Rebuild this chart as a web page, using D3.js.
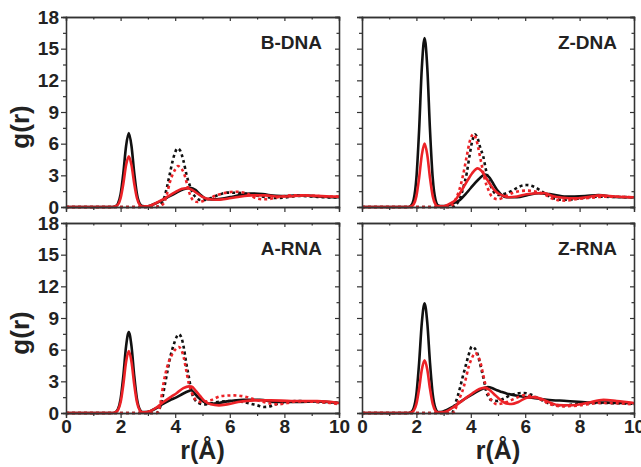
<!DOCTYPE html>
<html lang="en">
<head>
  <meta charset="UTF-8">
  <title>g(r) panels</title>
  <script src="https://d3js.org/d3.v7.min.js"></script>
  <style>
    body { margin: 0; background: #fff; }
    svg text { font-family: "Liberation Sans", Arial, sans-serif; font-weight: bold; fill: #222; }
  </style>
</head>
<body>
<div id="chart"></div>
<script>
// panel names and axis ticks
const panelNames = ["B-DNA", "Z-DNA", "A-RNA", "Z-RNA"];
const xMajor = [0, 2, 4, 6, 8, 10];
const xMinor = [1, 3, 5, 7, 9];
const yMajor = [0, 3, 6, 9, 12, 15, 18];
const yMinor = [1.5, 4.5, 7.5, 10.5, 13.5, 16.5];

// [r, g(r)]
const bdnaBlack = [[0,0],[1.7,0],[1.8,0.05],[1.9,0.31],[2.0,1.2],[2.1,3.2],[2.2,5.76],[2.3,7.0],[2.4,5.76],[2.5,3.2],[2.6,1.2],[2.7,0.31],[2.8,0.08],[2.95,0.06],[3.1,0.15],[3.3,0.35],[3.5,0.6],[3.7,0.88],[4.0,1.3],[4.3,1.68],[4.55,1.83],[4.75,1.6],[4.9,1.2],[5.05,0.9],[5.2,0.75],[5.5,0.72],[5.8,0.82],[6.1,0.98],[6.4,1.15],[6.75,1.28],[7.2,1.22],[7.7,1.06],[8.1,1.04],[8.6,1.12],[9.2,1.0],[9.9,0.93],[10,0.93]];
const bdnaRed = [[0,0],[1.7,0],[1.8,0.04],[1.9,0.21],[2.0,0.83],[2.1,2.2],[2.2,3.95],[2.3,4.8],[2.4,3.95],[2.5,2.2],[2.6,0.83],[2.7,0.21],[2.8,0.05],[2.95,0.06],[3.1,0.15],[3.3,0.38],[3.5,0.65],[3.7,0.95],[4.0,1.4],[4.25,1.72],[4.42,1.78],[4.6,1.65],[4.8,1.3],[5.0,0.95],[5.2,0.75],[5.5,0.68],[5.9,0.78],[6.3,0.95],[6.8,1.1],[7.3,1.1],[7.8,1.0],[8.3,1.02],[8.7,1.1],[9.2,1.05],[9.7,1.0],[10,0.98]];
const bdnaBlackDot = [[0,0],[3.3,0],[3.4,0.1],[3.5,0.35],[3.6,0.9],[3.7,1.9],[3.8,3.1],[3.9,4.3],[4.0,5.2],[4.08,5.55],[4.18,5.35],[4.3,4.4],[4.42,3.0],[4.54,2.0],[4.65,1.3],[4.78,0.85],[4.95,0.65],[5.15,0.7],[5.4,0.95],[5.65,1.2],[5.9,1.36],[6.2,1.35],[6.5,1.3],[6.9,1.12],[7.3,0.95],[7.65,0.85],[8.0,0.9],[8.5,1.05],[9.0,1.0],[9.5,0.92],[10,0.9]];
const bdnaRedDot = [[0,0],[3.3,0],[3.4,0.06],[3.5,0.15],[3.6,0.45],[3.7,1.25],[3.8,2.3],[3.9,3.05],[4.0,3.55],[4.1,3.88],[4.2,3.7],[4.32,3.2],[4.42,2.3],[4.5,1.5],[4.6,0.85],[4.7,0.55],[4.82,0.47],[5.0,0.55],[5.2,0.75],[5.5,1.1],[5.8,1.32],[6.2,1.45],[6.6,1.3],[6.9,0.9],[7.2,0.73],[7.5,0.78],[7.8,0.95],[8.4,1.12],[8.8,1.1],[9.2,1.04],[9.9,0.98],[10,0.98]];

const zdnaBlack = [[0,0],[1.7,0],[1.8,0.12],[1.9,0.7],[2.0,2.75],[2.1,7.3],[2.2,13.2],[2.3,16.0],[2.4,13.2],[2.5,7.3],[2.6,2.75],[2.7,0.7],[2.8,0.15],[2.95,0.08],[3.1,0.12],[3.3,0.3],[3.6,0.66],[3.8,1.2],[4.0,1.8],[4.28,2.6],[4.52,3.08],[4.7,2.75],[4.85,2.1],[5.0,1.5],[5.15,1.1],[5.3,0.92],[5.7,0.92],[6.1,1.15],[6.5,1.3],[6.9,1.22],[7.5,0.98],[8.2,1.04],[8.7,1.13],[9.3,0.95],[10,0.92]];
const zdnaRed = [[0,0],[1.7,0],[1.8,0.05],[1.9,0.26],[2.0,1.03],[2.1,2.75],[2.2,4.94],[2.3,6.0],[2.4,4.94],[2.5,2.75],[2.6,1.03],[2.7,0.26],[2.8,0.06],[2.95,0.06],[3.1,0.15],[3.25,0.35],[3.43,0.66],[3.6,1.3],[3.75,1.95],[3.9,2.6],[4.05,3.2],[4.25,3.66],[4.4,3.4],[4.55,2.8],[4.7,2.2],[4.85,1.65],[5.0,1.3],[5.15,1.1],[5.4,0.93],[5.7,1.0],[6.05,1.2],[6.4,1.3],[6.7,1.32],[7.0,1.05],[7.4,0.88],[7.8,0.82],[8.3,0.95],[8.75,1.1],[9.3,1.0],[10,0.92]];
const zdnaBlackDot = [[0,0],[3.3,0],[3.45,0.2],[3.6,0.8],[3.73,1.9],[3.85,3.2],[3.95,4.8],[4.05,6.2],[4.15,6.88],[4.25,6.5],[4.35,5.6],[4.46,4.76],[4.55,3.6],[4.65,2.55],[4.77,1.8],[4.89,1.3],[5.05,1.13],[5.3,1.3],[5.56,1.6],[5.8,1.95],[6.05,2.08],[6.3,1.95],[6.54,1.6],[6.8,1.15],[7.02,0.85],[7.35,0.68],[7.7,0.72],[8.0,0.82],[8.7,0.98],[9.3,0.95],[10,0.92]];
const zdnaRedDot = [[0,0],[3.25,0],[3.35,0.3],[3.49,1.0],[3.62,2.0],[3.73,3.2],[3.85,4.8],[3.97,6.3],[4.1,6.9],[4.2,6.4],[4.34,4.76],[4.43,3.6],[4.52,2.55],[4.65,1.6],[4.77,1.0],[5.0,0.73],[5.3,1.05],[5.56,1.36],[6.05,1.55],[6.4,1.45],[6.7,1.2],[7.0,0.8],[7.2,0.65],[7.5,0.6],[7.9,0.75],[8.3,0.85],[9.0,0.98],[10,0.92]];

const arnaBlack = [[0,0],[1.7,0],[1.8,0.06],[1.9,0.34],[2.0,1.32],[2.1,3.51],[2.2,6.31],[2.3,7.67],[2.4,6.31],[2.5,3.51],[2.6,1.32],[2.7,0.34],[2.8,0.08],[2.95,0.08],[3.1,0.2],[3.3,0.45],[3.57,0.88],[3.8,1.2],[4.06,1.5],[4.3,1.85],[4.5,2.08],[4.58,2.15],[4.7,1.9],[4.85,1.45],[5.05,1.05],[5.3,0.88],[5.6,0.95],[5.9,1.1],[6.5,1.26],[7.1,1.26],[7.7,1.04],[8.5,1.04],[9.2,1.1],[10,0.95]];
const arnaRed = [[0,0],[1.7,0],[1.8,0.04],[1.9,0.26],[2.0,1.01],[2.1,2.69],[2.2,4.83],[2.3,5.87],[2.4,4.83],[2.5,2.69],[2.6,1.01],[2.7,0.26],[2.8,0.06],[2.95,0.08],[3.1,0.2],[3.3,0.5],[3.57,1.04],[3.8,1.45],[4.06,1.9],[4.3,2.35],[4.5,2.52],[4.6,2.5],[4.74,2.15],[4.9,1.65],[5.05,1.2],[5.3,0.82],[5.6,0.72],[5.9,0.82],[6.3,1.04],[6.9,1.2],[7.5,1.2],[8.25,1.14],[9.2,1.14],[10,0.95]];
const arnaBlackDot = [[0,0],[3.3,0],[3.4,0.25],[3.5,1.0],[3.63,2.8],[3.72,4.0],[3.82,5.3],[3.95,6.5],[4.05,7.2],[4.13,7.45],[4.22,7.2],[4.31,6.25],[4.4,4.8],[4.5,3.4],[4.6,2.0],[4.7,1.35],[4.8,1.04],[5.06,0.82],[5.3,0.9],[5.55,1.04],[6.16,1.14],[6.65,0.95],[7.0,0.73],[7.25,0.57],[7.5,0.65],[7.75,0.88],[8.1,1.05],[8.5,1.14],[9.2,1.04],[10,0.95]];
const arnaRedDot = [[0,0],[3.35,0],[3.42,0.4],[3.47,1.1],[3.57,2.78],[3.66,3.9],[3.76,4.83],[3.9,5.6],[4.0,6.0],[4.13,6.25],[4.22,6.0],[4.31,5.3],[4.4,4.1],[4.5,2.78],[4.6,2.0],[4.68,1.5],[4.8,1.15],[4.95,1.04],[5.3,1.2],[5.67,1.6],[6.16,1.67],[6.65,1.5],[7.1,1.14],[7.75,0.82],[8.1,0.95],[8.5,1.1],[9.2,1.04],[9.7,0.95],[10,0.82]];

const zrnaBlack = [[0,0],[1.7,0],[1.8,0.08],[1.9,0.46],[2.0,1.79],[2.1,4.76],[2.2,8.56],[2.3,10.4],[2.4,8.56],[2.5,4.76],[2.6,1.79],[2.7,0.46],[2.8,0.1],[2.95,0.12],[3.12,0.3],[3.35,0.6],[3.61,1.04],[3.85,1.45],[4.1,1.83],[4.35,2.2],[4.53,2.4],[4.62,2.46],[4.8,2.35],[4.96,2.15],[5.15,1.98],[5.33,1.83],[5.82,1.58],[6.3,1.42],[6.8,1.26],[7.53,1.14],[8.3,1.0],[9.0,0.98],[10,0.92]];
const zrnaRed = [[0,0],[1.7,0],[1.8,0.04],[1.9,0.22],[2.0,0.86],[2.1,2.29],[2.2,4.12],[2.3,5.0],[2.4,4.12],[2.5,2.29],[2.6,0.86],[2.7,0.22],[2.8,0.05],[2.95,0.06],[3.1,0.15],[3.37,0.57],[3.6,1.0],[3.86,1.5],[4.05,1.85],[4.22,2.15],[4.4,2.35],[4.53,2.4],[4.68,2.2],[4.84,1.83],[5.08,1.26],[5.3,0.9],[5.5,0.85],[5.75,1.05],[6.06,1.45],[6.3,1.5],[6.67,1.26],[6.95,0.95],[7.2,0.75],[7.65,0.73],[8.27,0.95],[8.88,1.26],[9.37,1.14],[10,0.95]];
const zrnaBlackDot = [[0,0],[3.3,0],[3.38,0.4],[3.43,0.88],[3.52,1.6],[3.61,2.46],[3.7,3.4],[3.8,4.36],[3.92,5.5],[4.04,6.3],[4.12,6.2],[4.22,5.8],[4.32,4.9],[4.41,3.9],[4.5,2.9],[4.57,2.0],[4.64,1.6],[4.72,1.26],[4.96,1.14],[5.2,1.35],[5.45,1.67],[5.7,1.85],[5.94,1.9],[6.2,1.75],[6.43,1.45],[6.7,1.1],[6.92,0.88],[7.41,0.73],[8.02,0.88],[8.76,0.95],[10,0.88]];
const zrnaRedDot = [[0,0],[3.35,0],[3.42,0.3],[3.49,0.73],[3.62,1.6],[3.74,2.46],[3.83,3.4],[3.92,4.36],[4.04,5.2],[4.16,5.7],[4.26,5.4],[4.35,4.83],[4.44,3.8],[4.53,2.78],[4.62,2.0],[4.72,1.36],[4.84,1.0],[4.96,0.82],[5.15,0.9],[5.33,1.04],[5.65,1.4],[5.94,1.67],[6.2,1.6],[6.43,1.45],[6.7,1.1],[6.92,0.82],[7.41,0.63],[8.02,0.73],[8.76,0.95],[9.4,0.92],[10,0.82]];

const panelSeries = [
  [bdnaBlack, bdnaBlackDot, bdnaRed, bdnaRedDot],
  [zdnaBlack, zdnaBlackDot, zdnaRed, zdnaRedDot],
  [arnaBlack, arnaBlackDot, arnaRed, arnaRedDot],
  [zrnaBlack, zrnaBlackDot, zrnaRed, zrnaRedDot]
];
const seriesStyle = [
  { color: "#111", dash: null },
  { color: "#111", dash: "3,3" },
  { color: "#ec2227", dash: null },
  { color: "#ec2227", dash: "3,3" }
];

const W = 641, H = 467;
const colX = [[66, 339], [362, 634]];
const rowY = [[17, 207], [223, 413]];

const svg = d3.select("#chart").append("svg")
  .attr("width", W).attr("height", H);

panelNames.forEach((name, i) => {
  const col = i % 2, row = Math.floor(i / 2);
  const x = d3.scaleLinear().domain([0, 10]).range(colX[col]);
  const y = d3.scaleLinear().domain([0, 18]).range([rowY[row][1], rowY[row][0]]);
  const g = svg.append("g");

  // clip so curves stay inside the frame
  const clipId = "clip" + i;
  svg.append("clipPath").attr("id", clipId).append("rect")
    .attr("x", colX[col][0]).attr("y", rowY[row][0])
    .attr("width", colX[col][1] - colX[col][0]).attr("height", rowY[row][1] - rowY[row][0] + 2);

  const line = d3.line().x(d => x(d[0])).y(d => y(d[1])).curve(d3.curveMonotoneX);
  const lines = g.append("g").attr("clip-path", `url(#${clipId})`);
  panelSeries[i].forEach((s, k) => {
    lines.append("path")
      .attr("d", line(s))
      .attr("fill", "none")
      .attr("stroke", seriesStyle[k].color)
      .attr("stroke-width", 2.6)
      .attr("stroke-dasharray", seriesStyle[k].dash)
      .attr("stroke-linejoin", "round");
  });

  const showY = col === 0, showX = row === 1;
  const axes = [
    [d3.axisLeft(y).tickValues(yMajor).tickSize(5).tickPadding(2).tickFormat(showY ? d3.format("d") : ""), `translate(${colX[col][0]},0)`],
    [d3.axisLeft(y).tickValues(yMinor).tickSize(3).tickFormat(""), `translate(${colX[col][0]},0)`],
    [d3.axisRight(y).tickValues(yMajor).tickSize(-4).tickFormat(""), `translate(${colX[col][1]},0)`],
    [d3.axisRight(y).tickValues(yMinor).tickSize(-2.5).tickFormat(""), `translate(${colX[col][1]},0)`],
    [d3.axisBottom(x).tickValues(xMajor).tickSize(5).tickPadding(2).tickFormat(showX ? d3.format("d") : ""), `translate(0,${rowY[row][1]})`],
    [d3.axisBottom(x).tickValues(xMinor).tickSize(3).tickFormat(""), `translate(0,${rowY[row][1]})`],
    [d3.axisTop(x).tickValues(xMajor).tickSize(-4).tickFormat(""), `translate(0,${rowY[row][0]})`],
    [d3.axisTop(x).tickValues(xMinor).tickSize(-2.5).tickFormat(""), `translate(0,${rowY[row][0]})`]
  ];
  axes.forEach(([ax, tr]) => {
    const a = g.append("g").attr("transform", tr).call(ax);
    a.select(".domain").attr("stroke", "#333").attr("stroke-width", 1.3);
    a.selectAll(".tick line").attr("stroke", "#333").attr("stroke-width", 1.2);
    a.selectAll(".tick text").attr("font-size", 19).attr("fill", "#222")
      .attr("font-family", "'Liberation Sans', Arial, sans-serif").attr("font-weight", "bold");
  });

  g.append("text")
    .attr("x", colX[col][1] - 17).attr("y", rowY[row][0] + 32)
    .attr("text-anchor", "end").attr("font-size", 19)
    .text(name);

  if (col === 0) {
    const cy = (rowY[row][0] + rowY[row][1]) / 2 + 15;
    svg.append("text")
      .attr("transform", `translate(29,${cy}) rotate(-90)`)
      .attr("text-anchor", "middle").attr("font-size", 26)
      .text("g(r)");
  }
  if (row === 1) {
    svg.append("text")
      .attr("x", (colX[col][0] + colX[col][1]) / 2).attr("y", 459)
      .attr("text-anchor", "middle").attr("font-size", 25)
      .text("r(Å)");
  }
});
</script>
</body>
</html>
